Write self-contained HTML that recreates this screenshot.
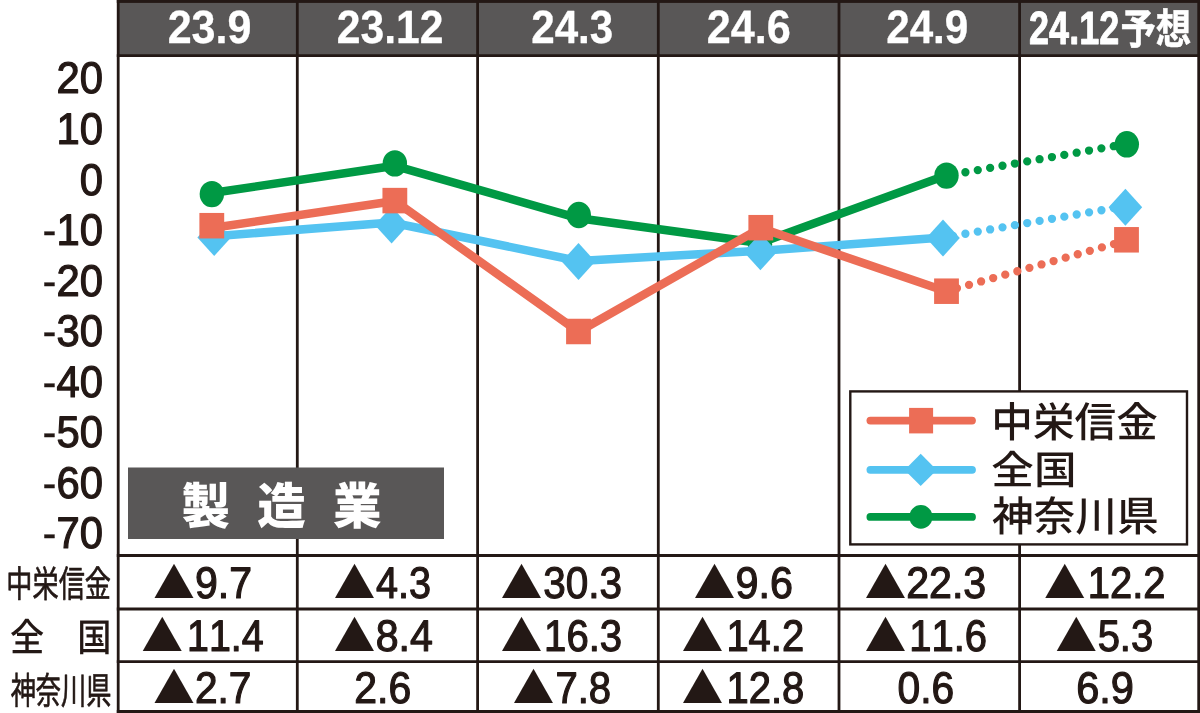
<!DOCTYPE html>
<html lang="ja">
<head>
<meta charset="utf-8">
<title>製造業 DI 推移</title>
<style>
html,body{margin:0;padding:0;background:#fff;}
body{width:1200px;height:713px;overflow:hidden;}
svg{display:block;will-change:transform;}
text{font-kerning:none;white-space:pre;text-rendering:geometricPrecision;}
</style>
</head>
<body>
<svg width="1200" height="713" viewBox="0 0 1200 713">
<rect width="1200" height="713" fill="#fff"/>
<g id="grid">
<rect x="118.2" y="0" width="1081.8" height="55.6" fill="#595757"/>
<line x1="118.2" y1="0" x2="118.2" y2="713" stroke="#231815" stroke-width="2.8" />
<line x1="297.3" y1="0" x2="297.3" y2="713" stroke="#231815" stroke-width="2.8" />
<line x1="477.6" y1="0" x2="477.6" y2="713" stroke="#231815" stroke-width="2.8" />
<line x1="658.3" y1="0" x2="658.3" y2="713" stroke="#231815" stroke-width="2.8" />
<line x1="839.0" y1="0" x2="839.0" y2="713" stroke="#231815" stroke-width="2.8" />
<line x1="1019.6" y1="0" x2="1019.6" y2="713" stroke="#231815" stroke-width="2.8" />
<line x1="1198.7" y1="0" x2="1198.7" y2="713" stroke="#231815" stroke-width="2.8" />
<rect x="116.8" y="0" width="1200" height="2.9" fill="#231815"/>
<line x1="116.8" y1="55.6" x2="1200" y2="55.6" stroke="#231815" stroke-width="2.8" />
<line x1="116.8" y1="555.5" x2="1200" y2="555.5" stroke="#231815" stroke-width="2.8" />
<line x1="116.8" y1="609.0" x2="1200" y2="609.0" stroke="#231815" stroke-width="2.8" />
<line x1="116.8" y1="661.7" x2="1200" y2="661.7" stroke="#231815" stroke-width="2.8" />
<line x1="116.8" y1="711.5" x2="1200" y2="711.5" stroke="#231815" stroke-width="2.8" />
</g>
<g id="header-labels">
<text transform="translate(167.65 43.33) scale(0.9230 1)" font-family='"Liberation Sans", sans-serif' font-weight="700" font-size="46.65" fill="#fff" stroke="#fff" stroke-width="0.3" stroke-linejoin="round">23.9</text>
<text transform="translate(336.76 43.33) scale(0.9140 1)" font-family='"Liberation Sans", sans-serif' font-weight="700" font-size="46.65" fill="#fff" stroke="#fff" stroke-width="0.3" stroke-linejoin="round">23.12</text>
<text transform="translate(531.17 43.33) scale(0.9043 1)" font-family='"Liberation Sans", sans-serif' font-weight="700" font-size="46.65" fill="#fff" stroke="#fff" stroke-width="0.3" stroke-linejoin="round">24.3</text>
<text transform="translate(706.74 43.39) scale(0.9241 1)" font-family='"Liberation Sans", sans-serif' font-weight="700" font-size="46.75" fill="#fff" stroke="#fff" stroke-width="0.3" stroke-linejoin="round">24.6</text>
<text transform="translate(886.17 43.39) scale(0.9029 1)" font-family='"Liberation Sans", sans-serif' font-weight="700" font-size="46.75" fill="#fff" stroke="#fff" stroke-width="0.3" stroke-linejoin="round">24.9</text>
<text transform="translate(1029.10 43.55) scale(0.7735 1)" font-family='"Liberation Sans", sans-serif' font-weight="700" font-size="46.55" fill="#fff" stroke="#fff" stroke-width="0.9" stroke-linejoin="round">24.12</text>
<text transform="translate(1120.45 43.54) scale(0.8392 1)" font-family='"Liberation Sans", "Noto Sans CJK JP", sans-serif' font-weight="700" font-size="42.20" fill="#fff" stroke="#fff" stroke-width="0.5" stroke-linejoin="round">予想</text>
</g>
<g id="y-axis">
<text transform="translate(56.50 93.41) scale(0.9450 1)" font-family='"Liberation Sans", sans-serif' font-weight="400" font-size="44.21" fill="#231815" stroke="#231815" stroke-width="1.2" stroke-linejoin="round">20</text>
<text transform="translate(56.50 143.97) scale(0.9450 1)" font-family='"Liberation Sans", sans-serif' font-weight="400" font-size="44.21" fill="#231815" stroke="#231815" stroke-width="1.2" stroke-linejoin="round">10</text>
<text transform="translate(79.73 194.53) scale(0.9450 1)" font-family='"Liberation Sans", sans-serif' font-weight="400" font-size="44.21" fill="#231815" stroke="#231815" stroke-width="1.2" stroke-linejoin="round">0</text>
<text transform="translate(42.58 245.09) scale(0.9450 1)" font-family='"Liberation Sans", sans-serif' font-weight="400" font-size="44.21" fill="#231815" stroke="#231815" stroke-width="1.2" stroke-linejoin="round"><tspan stroke-width="0.3">-</tspan>10</text>
<text transform="translate(42.58 295.65) scale(0.9450 1)" font-family='"Liberation Sans", sans-serif' font-weight="400" font-size="44.21" fill="#231815" stroke="#231815" stroke-width="1.2" stroke-linejoin="round"><tspan stroke-width="0.3">-</tspan>20</text>
<text transform="translate(42.58 346.21) scale(0.9450 1)" font-family='"Liberation Sans", sans-serif' font-weight="400" font-size="44.21" fill="#231815" stroke="#231815" stroke-width="1.2" stroke-linejoin="round"><tspan stroke-width="0.3">-</tspan>30</text>
<text transform="translate(42.58 396.77) scale(0.9450 1)" font-family='"Liberation Sans", sans-serif' font-weight="400" font-size="44.21" fill="#231815" stroke="#231815" stroke-width="1.2" stroke-linejoin="round"><tspan stroke-width="0.3">-</tspan>40</text>
<text transform="translate(42.58 447.33) scale(0.9450 1)" font-family='"Liberation Sans", sans-serif' font-weight="400" font-size="44.21" fill="#231815" stroke="#231815" stroke-width="1.2" stroke-linejoin="round"><tspan stroke-width="0.3">-</tspan>50</text>
<text transform="translate(42.58 497.89) scale(0.9450 1)" font-family='"Liberation Sans", sans-serif' font-weight="400" font-size="44.21" fill="#231815" stroke="#231815" stroke-width="1.2" stroke-linejoin="round"><tspan stroke-width="0.3">-</tspan>60</text>
<text transform="translate(42.58 548.45) scale(0.9450 1)" font-family='"Liberation Sans", sans-serif' font-weight="400" font-size="44.21" fill="#231815" stroke="#231815" stroke-width="1.2" stroke-linejoin="round"><tspan stroke-width="0.3">-</tspan>70</text>
</g>
<g id="series">
<polyline points="211.85,193.0 394.85,165.8 578.8,218.3 760.0,243.0 946.5,175.3" fill="none" stroke="#009944" stroke-width="8.5" stroke-linejoin="round"/>
<line x1="946.5" y1="175.56" x2="1126.8" y2="143.9" stroke="#009944" stroke-width="8.3" stroke-linecap="round" stroke-dasharray="0 12.55" stroke-dashoffset="5.9"/>
<ellipse cx="211.85" cy="194.1" rx="12.2" ry="13.2" fill="#009944"/>
<ellipse cx="394.85" cy="163.4" rx="12.2" ry="13.2" fill="#009944"/>
<ellipse cx="578.8" cy="215.0" rx="12.2" ry="13.2" fill="#009944"/>
<ellipse cx="760.0" cy="244.5" rx="12.2" ry="13.2" fill="#009944"/>
<ellipse cx="946.5" cy="175.6" rx="12.2" ry="13.2" fill="#009944"/>
<ellipse cx="1126.8" cy="144.3" rx="12.2" ry="13.2" fill="#009944"/>
<polyline points="214.2,236.2 391.6,222.5 578.5,261.0 760.4,250.8 943.0,237.6" fill="none" stroke="#54c3f1" stroke-width="8.5" stroke-linejoin="round"/>
<line x1="943.0" y1="237.6" x2="1125.4" y2="206.1" stroke="#54c3f1" stroke-width="8.3" stroke-linecap="round" stroke-dasharray="0 12.55" stroke-dashoffset="2.37"/>
<polygon points="214.2,218.9 231.0,237.4 214.2,255.9 197.4,237.4" fill="#54c3f1"/>
<polygon points="391.6,206.5 408.4,225.0 391.6,243.5 374.8,225.0" fill="#54c3f1"/>
<polygon points="578.5,243.0 595.3,261.5 578.5,280.0 561.7,261.5" fill="#54c3f1"/>
<polygon points="760.4,233.3 777.2,251.8 760.4,270.3 743.6,251.8" fill="#54c3f1"/>
<polygon points="943.0,219.6 959.8,238.1 943.0,256.6 926.2,238.1" fill="#54c3f1"/>
<polygon points="1125.4,188.8 1142.2,207.3 1125.4,225.8 1108.6,207.3" fill="#54c3f1"/>
<polyline points="211.8,228.0 394.85,201.0 578.5,331.8 760.8,228.0 946.5,291.5" fill="none" stroke="#ec6d56" stroke-width="8.5" stroke-linejoin="round"/>
<line x1="946.5" y1="291.2" x2="1126.5" y2="240.5" stroke="#ec6d56" stroke-width="8.3" stroke-linecap="round" stroke-dasharray="0 12.55" stroke-dashoffset="1.7"/>
<rect x="199.40" y="212.95" width="24.8" height="25.5" fill="#ec6d56"/>
<rect x="382.45" y="187.85" width="24.8" height="25.5" fill="#ec6d56"/>
<rect x="566.10" y="318.75" width="24.8" height="25.5" fill="#ec6d56"/>
<rect x="748.40" y="214.95" width="24.8" height="25.5" fill="#ec6d56"/>
<rect x="934.10" y="278.45" width="24.8" height="25.5" fill="#ec6d56"/>
<rect x="1114.10" y="227.05" width="24.8" height="25.5" fill="#ec6d56"/>
</g>
<g id="category-badge">
<rect x="128" y="467.5" width="316" height="71.5" fill="#595757"/>
<text transform="translate(181.54 523.90) scale(0.9809 1)" font-family='"Liberation Sans", "Noto Sans CJK JP", sans-serif' font-weight="900" font-size="49.53" fill="#fff" letter-spacing="27.67">製造業</text>
</g>
<g id="legend">
<rect x="850.3" y="391.4" width="336.7" height="153.0" fill="#fff" stroke="#231815" stroke-width="2.4"/>
<line x1="870.4" y1="420.6" x2="972.0" y2="420.6" stroke="#ec6d56" stroke-width="7.8" stroke-linecap="round"/>
<rect x="909.10" y="407.90" width="24.0" height="25.5" fill="#ec6d56"/>
<line x1="870.4" y1="469.8" x2="972.0" y2="469.8" stroke="#54c3f1" stroke-width="7.8" stroke-linecap="round"/>
<polygon points="920.7,453.8 936.8,469.9 920.7,486.0 904.6,469.9" fill="#54c3f1"/>
<line x1="870.4" y1="516.9" x2="972.0" y2="516.9" stroke="#009944" stroke-width="7.8" stroke-linecap="round"/>
<ellipse cx="920.9" cy="516.9" rx="11.5" ry="11.8" fill="#009944"/>
<text transform="translate(991.33 436.54) scale(1.0056 1)" font-family='"Liberation Sans", "Noto Sans CJK JP", sans-serif' font-weight="500" font-size="41.42" fill="#231815">中栄信金</text>
<text transform="translate(991.32 484.00) scale(1.0838 1)" font-family='"Liberation Sans", "Noto Sans CJK JP", sans-serif' font-weight="500" font-size="39.31" fill="#231815">全国</text>
<text transform="translate(991.93 531.47) scale(1.0127 1)" font-family='"Liberation Sans", "Noto Sans CJK JP", sans-serif' font-weight="500" font-size="41.15" fill="#231815">神奈川県</text>
</g>
<g id="row-labels">
<text transform="translate(6.24 597.31) scale(0.7161 1)" font-family='"Liberation Sans", "Noto Sans CJK JP", sans-serif' font-weight="400" font-size="36.58" fill="#231815" stroke="#231815" stroke-width="0.7" stroke-linejoin="round">中栄信金</text>
<text transform="translate(0 650.51) scale(0.9 1)" x="11.08 48.44 85.80" font-family='"Liberation Sans", "Noto Sans CJK JP", sans-serif' font-weight="500" font-size="38.02" fill="#231815" stroke="#231815" stroke-width="0.0">全　国</text>
<text transform="translate(10.66 703.88) scale(0.6787 1)" font-family='"Liberation Sans", "Noto Sans CJK JP", sans-serif' font-weight="400" font-size="37.14" fill="#231815" stroke="#231815" stroke-width="0.7" stroke-linejoin="round">神奈川県</text>
</g>
<g id="table-values">
<text transform="translate(141.12 598.10) scale(1.1404 1)" font-family='"Liberation Sans", sans-serif' font-weight="400" font-size="58.46" fill="#231815">▲</text>
<text transform="translate(195.03 598.16) scale(0.9287 1)" font-family='"Liberation Sans", sans-serif' font-weight="400" font-size="44.21" fill="#231815" stroke="#231815" stroke-width="1.2" stroke-linejoin="round">9.7</text>
<text transform="translate(321.52 598.10) scale(1.1404 1)" font-family='"Liberation Sans", sans-serif' font-weight="400" font-size="58.46" fill="#231815">▲</text>
<text transform="translate(376.03 598.16) scale(0.8962 1)" font-family='"Liberation Sans", sans-serif' font-weight="400" font-size="44.21" fill="#231815" stroke="#231815" stroke-width="1.2" stroke-linejoin="round">4.3</text>
<text transform="translate(488.52 598.10) scale(1.1404 1)" font-family='"Liberation Sans", sans-serif' font-weight="400" font-size="58.46" fill="#231815">▲</text>
<text transform="translate(543.31 598.16) scale(0.9161 1)" font-family='"Liberation Sans", sans-serif' font-weight="400" font-size="44.21" fill="#231815" stroke="#231815" stroke-width="1.2" stroke-linejoin="round">30.3</text>
<text transform="translate(681.52 598.10) scale(1.1404 1)" font-family='"Liberation Sans", sans-serif' font-weight="400" font-size="58.46" fill="#231815">▲</text>
<text transform="translate(735.52 598.16) scale(0.9345 1)" font-family='"Liberation Sans", sans-serif' font-weight="400" font-size="44.21" fill="#231815" stroke="#231815" stroke-width="1.2" stroke-linejoin="round">9.6</text>
<text transform="translate(852.62 598.10) scale(1.1404 1)" font-family='"Liberation Sans", sans-serif' font-weight="400" font-size="58.46" fill="#231815">▲</text>
<text transform="translate(906.19 598.16) scale(0.9305 1)" font-family='"Liberation Sans", sans-serif' font-weight="400" font-size="44.21" fill="#231815" stroke="#231815" stroke-width="1.2" stroke-linejoin="round">22.3</text>
<text transform="translate(1031.82 598.10) scale(1.1404 1)" font-family='"Liberation Sans", sans-serif' font-weight="400" font-size="58.46" fill="#231815">▲</text>
<text transform="translate(1087.80 598.16) scale(0.9038 1)" font-family='"Liberation Sans", sans-serif' font-weight="400" font-size="44.21" fill="#231815" stroke="#231815" stroke-width="1.2" stroke-linejoin="round">12.2</text>
<text transform="translate(129.22 650.60) scale(1.1404 1)" font-family='"Liberation Sans", sans-serif' font-weight="400" font-size="58.46" fill="#231815">▲</text>
<text transform="translate(187.03 650.66) scale(0.8912 1)" font-family='"Liberation Sans", sans-serif' font-weight="400" font-size="44.21" fill="#231815" stroke="#231815" stroke-width="1.2" stroke-linejoin="round">11.4</text>
<text transform="translate(321.52 650.60) scale(1.1404 1)" font-family='"Liberation Sans", sans-serif' font-weight="400" font-size="58.46" fill="#231815">▲</text>
<text transform="translate(375.67 650.66) scale(0.9303 1)" font-family='"Liberation Sans", sans-serif' font-weight="400" font-size="44.21" fill="#231815" stroke="#231815" stroke-width="1.2" stroke-linejoin="round">8.4</text>
<text transform="translate(488.52 650.60) scale(1.1404 1)" font-family='"Liberation Sans", sans-serif' font-weight="400" font-size="58.46" fill="#231815">▲</text>
<text transform="translate(544.09 650.66) scale(0.9068 1)" font-family='"Liberation Sans", sans-serif' font-weight="400" font-size="44.21" fill="#231815" stroke="#231815" stroke-width="1.2" stroke-linejoin="round">16.3</text>
<text transform="translate(669.62 650.60) scale(1.1404 1)" font-family='"Liberation Sans", sans-serif' font-weight="400" font-size="58.46" fill="#231815">▲</text>
<text transform="translate(726.40 650.66) scale(0.9038 1)" font-family='"Liberation Sans", sans-serif' font-weight="400" font-size="44.21" fill="#231815" stroke="#231815" stroke-width="1.2" stroke-linejoin="round">14.2</text>
<text transform="translate(852.62 650.60) scale(1.1404 1)" font-family='"Liberation Sans", sans-serif' font-weight="400" font-size="58.46" fill="#231815">▲</text>
<text transform="translate(909.30 650.66) scale(0.9044 1)" font-family='"Liberation Sans", sans-serif' font-weight="400" font-size="44.21" fill="#231815" stroke="#231815" stroke-width="1.2" stroke-linejoin="round">11.6</text>
<text transform="translate(1043.22 650.60) scale(1.1404 1)" font-family='"Liberation Sans", sans-serif' font-weight="400" font-size="58.46" fill="#231815">▲</text>
<text transform="translate(1097.64 650.66) scale(0.9043 1)" font-family='"Liberation Sans", sans-serif' font-weight="400" font-size="44.21" fill="#231815" stroke="#231815" stroke-width="1.2" stroke-linejoin="round">5.3</text>
<text transform="translate(141.12 703.00) scale(1.1404 1)" font-family='"Liberation Sans", sans-serif' font-weight="400" font-size="58.46" fill="#231815">▲</text>
<text transform="translate(194.91 703.06) scale(0.9191 1)" font-family='"Liberation Sans", sans-serif' font-weight="400" font-size="44.21" fill="#231815" stroke="#231815" stroke-width="1.2" stroke-linejoin="round">2.7</text>
<text transform="translate(354.30 703.06) scale(0.9266 1)" font-family='"Liberation Sans", sans-serif' font-weight="400" font-size="44.21" fill="#231815" stroke="#231815" stroke-width="1.2" stroke-linejoin="round">2.6</text>
<text transform="translate(500.62 703.00) scale(1.1404 1)" font-family='"Liberation Sans", sans-serif' font-weight="400" font-size="58.46" fill="#231815">▲</text>
<text transform="translate(555.39 703.06) scale(0.9065 1)" font-family='"Liberation Sans", sans-serif' font-weight="400" font-size="44.21" fill="#231815" stroke="#231815" stroke-width="1.2" stroke-linejoin="round">7.8</text>
<text transform="translate(669.62 703.00) scale(1.1404 1)" font-family='"Liberation Sans", sans-serif' font-weight="400" font-size="58.46" fill="#231815">▲</text>
<text transform="translate(726.39 703.06) scale(0.9054 1)" font-family='"Liberation Sans", sans-serif' font-weight="400" font-size="44.21" fill="#231815" stroke="#231815" stroke-width="1.2" stroke-linejoin="round">12.8</text>
<text transform="translate(897.56 703.06) scale(0.9222 1)" font-family='"Liberation Sans", sans-serif' font-weight="400" font-size="44.21" fill="#231815" stroke="#231815" stroke-width="1.2" stroke-linejoin="round">0.6</text>
<text transform="translate(1076.15 703.06) scale(0.9414 1)" font-family='"Liberation Sans", sans-serif' font-weight="400" font-size="44.21" fill="#231815" stroke="#231815" stroke-width="1.2" stroke-linejoin="round">6.9</text>
</g>
</svg>
</body>
</html>
